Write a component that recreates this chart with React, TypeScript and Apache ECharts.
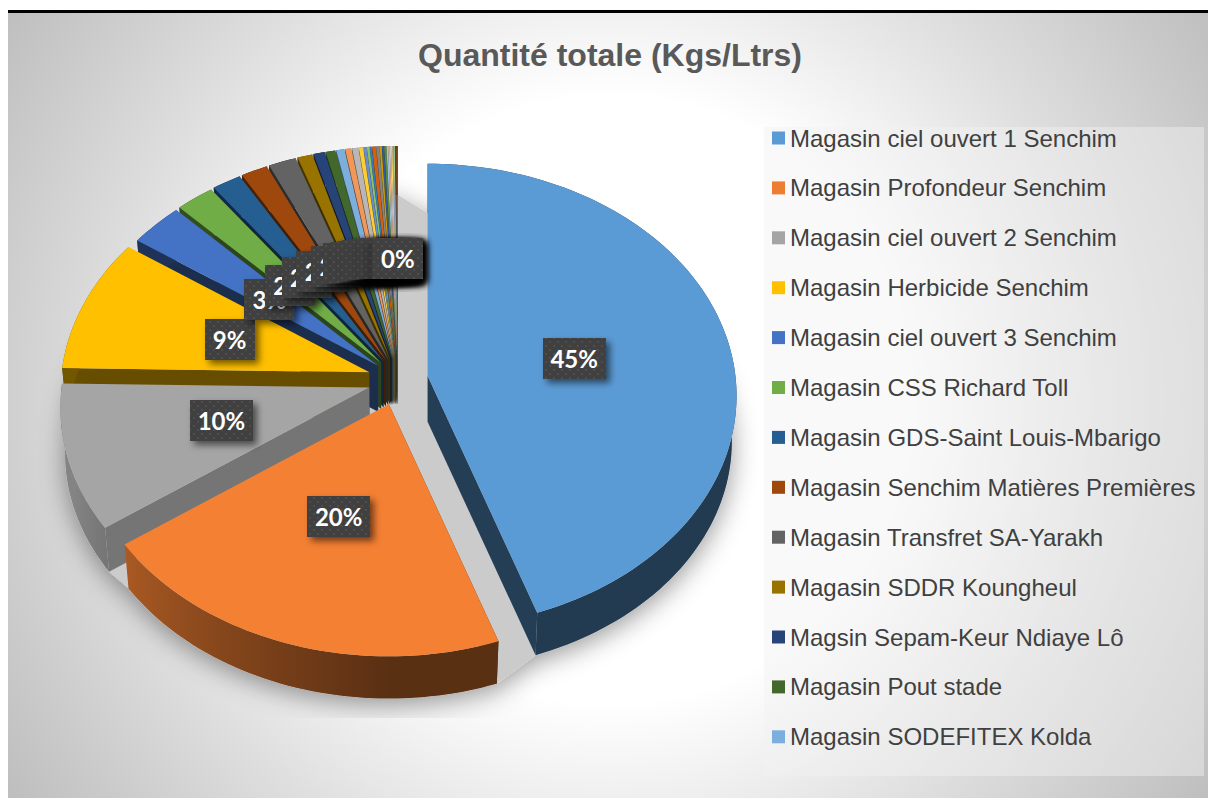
import React, { useEffect, useRef } from "react";
import * as echarts from "echarts";

const titleText = "Quantité totale (Kgs/Ltrs)";
const legendNames = [
  "Magasin ciel ouvert 1 Senchim",
  "Magasin Profondeur Senchim",
  "Magasin ciel ouvert 2 Senchim",
  "Magasin Herbicide Senchim",
  "Magasin ciel ouvert 3 Senchim",
  "Magasin CSS Richard Toll",
  "Magasin GDS-Saint Louis-Mbarigo",
  "Magasin Senchim Matières Premières",
  "Magasin Transfret SA-Yarakh",
  "Magasin SDDR Koungheul",
  "Magsin Sepam-Keur Ndiaye Lô",
  "Magasin Pout stade",
  "Magasin SODEFITEX Kolda",
];
const namedValues = [44.7, 20.49, 10.1, 9.38, 3.08, 2.2, 1.67, 1.53, 1.58, 0.86, 0.64, 0.56, 0.47];
const tailValues = [0.36, 0.36, 0.24, 0.17, 0.15, 0.12, 0.22, 0.17, 0.12, 0.12, 0.12, 0.09, 0.08, 0.07, 0.07, 0.06, 0.06, 0.05, 0.05, 0.04, 0.03];
const palette = [
  "#5B9BD5", "#ED7D31", "#A5A5A5", "#FFC000", "#4472C4", "#70AD47",
  "#255E91", "#9E480E", "#636363", "#997300", "#264478", "#43682B",
  "#7CAFDD", "#F1975A", "#B7B7B7", "#FFCD33", "#698ED0", "#8CC168",
  "#327DC2", "#D26012", "#848484", "#CC9A00", "#335AA1", "#5A8B39",
  "#9DC3E6", "#F4B183", "#C9C9C9", "#FFD966", "#8FAADC", "#A9D18E",
  "#1F4E79", "#843C0C", "#525252", "#7F6000",
];
const topFill: Record<number, string> = { 1: "#F48033" };

const allValues = [...namedValues, ...tailValues];
const total = allValues.reduce((a, b) => a + b, 0);
const RAD = Math.PI / 180;
const CX = 398, CY = 380, DEPTH = 46;
const PA = 230.3, PB = 0.0863, PC = 307.8;
const FONT_SANS = "'Liberation Sans', Arial, sans-serif";

function proj(deg: number) {
  const X = Math.sin(deg * RAD), Y = -Math.cos(deg * RAD);
  const d = 1 - PB * Y;
  return [(PC * X) / d, (PA * Y) / d];
}
function shade(hex: string, f: number) {
  const n = parseInt(hex.slice(1), 16);
  const c = [(n >> 16) & 255, (n >> 8) & 255, n & 255].map((v) => Math.round(v * f));
  return `rgb(${c[0]},${c[1]},${c[2]})`;
}
function outerFactor(deg: number) {
  if (deg <= 180) return 0.38;
  if (deg > 268) return 0.45;
  return Math.min(0.8, 0.38 + ((deg - 180) / 60) * 0.37);
}
function edgeFactor(deg: number) {
  return deg > 200 && deg < 250 ? 0.71 : 0.4;
}

const slices = (() => {
  let cum = 0;
  return allValues.map((v, i) => {
    const start = (cum / total) * 360;
    cum += v;
    const end = (cum / total) * 360;
    const mid = (start + end) / 2;
    const e = i < 4 ? 30 : 26;
    const apex = [CX + e * Math.sin(mid * RAD), CY - 0.85 * e * Math.cos(mid * RAD)];
    return { i, v, start, end, mid, apex };
  });
})();
const rankOf: number[] = [];
[...slices]
  .sort((a, b) => -Math.cos(a.mid * RAD) - -Math.cos(b.mid * RAD))
  .forEach((s, r) => { rankOf[s.i] = r; });

function arc(s: { start: number; end: number; apex: number[] }) {
  const n = Math.max(2, Math.ceil((s.end - s.start) / 1.5) + 1);
  const out: { deg: number; p: number[] }[] = [];
  for (let k = 0; k < n; k++) {
    const deg = s.start + ((s.end - s.start) * k) / (n - 1);
    const q = proj(deg);
    out.push({ deg, p: [s.apex[0] + q[0], s.apex[1] + q[1]] });
  }
  return out;
}
function lower(p: number[], apex: number[]) {
  return [apex[0] + (p[0] - apex[0]) * 0.985, apex[1] + (p[1] - apex[1]) * 0.985 + DEPTH];
}

function makePattern() {
  const cv = document.createElement("canvas");
  cv.width = 8; cv.height = 8;
  const g = cv.getContext("2d")!;
  g.fillStyle = "#404040"; g.fillRect(0, 0, 8, 8);
  g.fillStyle = "#4E4E4E";
  g.fillRect(1, 1, 2, 2); g.fillRect(5, 5, 2, 2);
  return cv;
}

export default function App() {
  const ref = useRef<HTMLDivElement>(null);
  useEffect(() => {
    document.body.style.margin = "0";
    const chart = echarts.init(ref.current!, undefined, { renderer: "svg" });
    const pat = { image: makePattern(), repeat: "repeat" };

    const renderItem = (params: any, api: any) => {
      const i = params.dataIndex;
      const s = slices[i];
      const value = api.value(0);
      const color = palette[i % palette.length];
      const r = rankOf[i];
      const pts = arc(s);
      const base = 10 + r * 3;
      const children: any[] = [];

      if (i === 0) {
        const outline: number[][] = [];
        slices.forEach((t) => arc(t).forEach((a) => outline.push(lower(a.p, t.apex))));
        children.push({
          type: "polygon",
          z2: 1,
          shape: { points: outline },
          clipPath: { type: "rect", shape: { x: 38, y: 110, width: 720, height: 608 } },
          style: { fill: "#CBCBCB", shadowBlur: 26, shadowColor: "rgba(0,0,0,0.4)", shadowOffsetY: 6 },
        });
      }

      // the radial wall on the side that faces the viewer
      const e = s.mid > 180 ? pts[0] : pts[pts.length - 1];
      children.push({
        type: "polygon",
        z2: base,
        shape: { points: [s.apex, e.p, lower(e.p, s.apex), [s.apex[0], s.apex[1] + DEPTH]] },
        style: { fill: shade(color, edgeFactor(e.deg)) },
      });

      // outer wall
      const lows = pts.map((a) => lower(a.p, s.apex));
      const xs = pts.map((a) => a.p[0]).concat(lows.map((a) => a[0]));
      const minX = Math.min(...xs), maxX = Math.max(...xs);
      const stops = pts
        .map((a) => ({ offset: (a.p[0] - minX) / Math.max(1, maxX - minX), color: shade(color, outerFactor(a.deg)) }))
        .sort((p, q) => p.offset - q.offset);
      children.push({
        type: "polygon",
        z2: base + 1,
        shape: { points: pts.map((a) => a.p).concat(lows.reverse()) },
        style: { fill: new echarts.graphic.LinearGradient(0, 0, 1, 0, stops) },
      });

      // top face
      children.push({
        type: "polygon",
        z2: base + 2,
        shape: { points: [s.apex, ...pts.map((a) => a.p)] },
        style: { fill: topFill[i] || color },
      });

      // data label
      const q = proj(s.mid);
      const lx = s.apex[0] + q[0] * 0.49;
      const ly = s.apex[1] + q[1] * 0.47;
      const text = `${Math.round((value / total) * 100)}%`;
      const w = text.length > 2 ? 63 : 50;
      const h = 41;
      children.push({
        type: "rect",
        z2: 1000 + i * 2,
        shape: { x: Math.round(lx - w / 2), y: Math.round(ly - h / 2), width: w, height: h },
        style: { fill: pat, shadowBlur: 7, shadowOffsetX: 4, shadowOffsetY: 4, shadowColor: "rgba(0,0,0,0.55)" },
      });
      children.push({
        type: "text",
        z2: 1001 + i * 2,
        style: {
          text,
          x: lx,
          y: ly,
          align: "center",
          verticalAlign: "middle",
          fill: "#FFFFFF",
          font: "bold 24px Lato",
        },
      });
      return { type: "group", children };
    };

    chart.setOption({
      animation: false,
      title: {
        text: titleText,
        left: 610,
        top: 39,
        padding: 0,
        textAlign: "center",
        textStyle: { fontFamily: FONT_SANS, fontWeight: "bold", fontSize: 32, color: "#595959" },
      },
      legend: {
        data: legendNames,
        orient: "vertical",
        left: 772,
        top: 125.5,
        padding: 0,
        icon: "rect",
        itemWidth: 13,
        itemHeight: 13,
        itemGap: 24.9,
        selectedMode: false,
        textStyle: { fontFamily: FONT_SANS, fontSize: 24, color: "#404040", lineHeight: 25 },
      },
      graphic: [
        { type: "rect", z: -10, silent: true, shape: { x: 8, y: 10, width: 1200, height: 3 }, style: { fill: "#000" } },
        {
          type: "rect", z: -10, silent: true,
          shape: { x: 8, y: 13, width: 1200, height: 785 },
          style: {
            fill: new echarts.graphic.RadialGradient(610, 400, 720, [
              { offset: 0, color: "#FFFFFF" },
              { offset: 0.42, color: "#FFFFFF" },
              { offset: 0.7, color: "#DEDEDE" },
              { offset: 1, color: "#BEBEBE" },
            ], true),
          },
        },
        { type: "rect", z: -9, silent: true, shape: { x: 764, y: 127, width: 440, height: 649 }, style: { fill: "rgba(242,242,242,0.45)" } },
      ],
      series: [
        {
          type: "pie",
          radius: [0, 0],
          center: [CX, CY],
          silent: true,
          label: { show: false },
          labelLine: { show: false },
          data: legendNames.map((name, i) => ({ name, value: namedValues[i], itemStyle: { color: palette[i] } })),
        },
        {
          type: "custom",
          coordinateSystem: "none",
          silent: true,
          renderItem,
          data: allValues.map((v) => [v]),
        },
      ],
    });
    return () => chart.dispose();
  }, []);
  return <div ref={ref} style={{ position: "absolute", left: 0, top: 0, width: 1208, height: 798 }} />;
}
